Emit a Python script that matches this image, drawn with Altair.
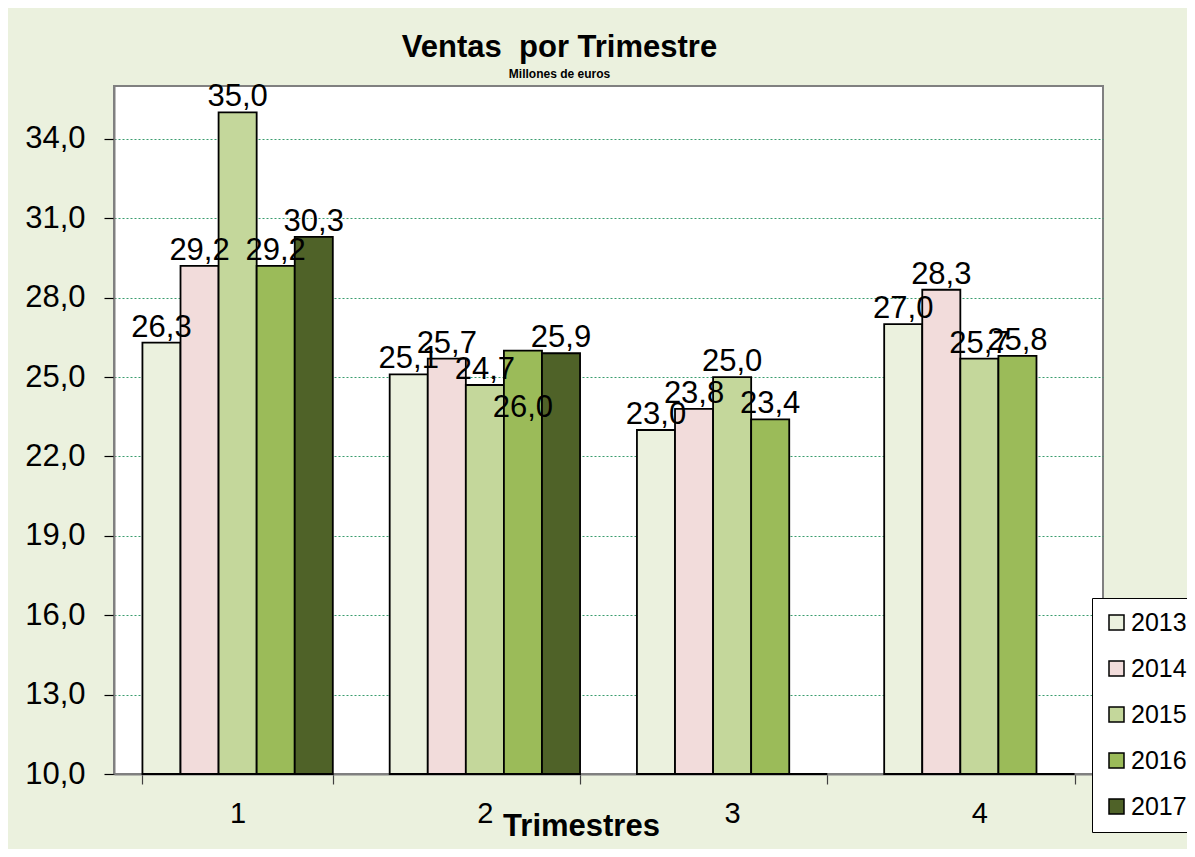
import altair as alt
import pandas as pd

quarters = ["1", "2", "3", "4"]
years = ["2013", "2014", "2015", "2016", "2017"]
v2013 = [26.3, 25.1, 23.0, 27.0]
v2014 = [29.2, 25.7, 23.8, 28.3]
v2015 = [35.0, 24.7, 25.0, 25.7]
v2016 = [29.2, 26.0, 23.4, 25.8]
v2017 = [30.3, 25.9, 0.0, 0.0]
colors = ["#EBF1DE", "#F2DCDB", "#C4D79B", "#9BBB59", "#4F6228"]
y_ticks = [10, 13, 16, 19, 22, 25, 28, 31, 34]

series = [v2013, v2014, v2015, v2016, v2017]
rows = []
for yr, vals in zip(years, series):
    for q, v in zip(quarters, vals):
        rows.append({"quarter": q, "year": yr, "value": v})
df = pd.DataFrame(rows)

FONT = "Liberation Sans"

x_enc = alt.X(
    "quarter:N",
    sort=quarters,
    scale=alt.Scale(paddingInner=0.23, paddingOuter=0.115),
    axis=alt.Axis(
        title="Trimestres",
        titleFont=FONT,
        titleFontSize=31,
        titleFontWeight="bold",
        titleColor="black",
        titleX=467,
        titleY=61,
        titleAlign="center",
        titleBaseline="alphabetic",
        labelAngle=0,
        labelFont=FONT,
        labelFontSize=29,
        labelColor="black",
        labelPadding=15,
        tickBand="extent",
        tickSize=10,
        tickColor="#404040",
        tickWidth=1.2,
        domainColor="#808080",
        domainWidth=2,
        grid=False,
    ),
)
xoff = alt.XOffset("year:N", sort=years)
y_scale = alt.Scale(domain=[10, 36], clamp=True, nice=False, zero=False)

bars = alt.Chart(df).mark_bar(stroke="black", strokeWidth=1.8).encode(
    x=x_enc,
    xOffset=xoff,
    y=alt.Y(
        "value:Q",
        scale=y_scale,
        axis=alt.Axis(
            title=None,
            values=y_ticks,
            labelExpr="replace(format(datum.value, '.1f'), '.', ',')",
            labelFont=FONT,
            labelFontSize=31,
            labelColor="black",
            labelPadding=19,
            tickSize=10,
            tickColor="black",
            tickWidth=1.2,
            domainColor="#808080",
            domainWidth=2,
            grid=True,
            gridColor="#3A9D6E",
            gridDash=[2, 2],
            gridWidth=1,
        ),
    ),
    y2=alt.datum(10),
    color=alt.Color(
        "year:N",
        sort=years,
        scale=alt.Scale(domain=years, range=colors),
        legend=alt.Legend(
            title=None,
            orient="none",
            legendX=978,
            legendY=512,
            fillColor="white",
            strokeColor="black",
            padding=12,
            labelFont=FONT,
            labelFontSize=25,
            labelColor="black",
            labelOffset=2,
            symbolType="square",
            symbolSize=225,
            symbolStrokeColor="black",
            symbolStrokeWidth=1.5,
            rowPadding=20,
        ),
    ),
)

label_fmt = "replace(format(datum.value, '.1f'), '.', ',')"

labels = alt.Chart(df).transform_filter(
    "datum.value > 0 && !(datum.quarter == '2' && datum.year == '2016')"
).transform_calculate(lbl=label_fmt).mark_text(
    font=FONT, fontSize=31, color="black", baseline="alphabetic", dy=-6
).encode(
    x=alt.X("quarter:N", sort=quarters),
    xOffset=xoff,
    y=alt.Y("value:Q", scale=y_scale),
    text="lbl:N",
)

inner_label = alt.Chart(df).transform_filter(
    "datum.quarter == '2' && datum.year == '2016'"
).transform_calculate(lbl=label_fmt).mark_text(
    font=FONT, fontSize=31, color="black", baseline="alphabetic", dy=66
).encode(
    x=alt.X("quarter:N", sort=quarters),
    xOffset=xoff,
    y=alt.Y("value:Q", scale=y_scale),
    text="lbl:N",
)

chart = alt.layer(bars, labels, inner_label).properties(
    width=989,
    height=688,
    title=alt.TitleParams(
        text="Ventas\u00a0 por Trimestre",
        subtitle="Millones de euros",
        font=FONT,
        fontSize=31,
        fontWeight="bold",
        color="black",
        subtitleFont=FONT,
        subtitleFontSize=12,
        subtitleFontWeight="bold",
        subtitleColor="black",
        subtitlePadding=5,
        anchor="middle",
        dx=-49,
        offset=0,
    ),
    background="#EBF1DE",
    autosize=alt.AutoSizeParams(type="none"),
    padding={"left": 106, "top": 78, "right": 84, "bottom": 75},
).configure_view(
    fill="white", stroke="#808080", strokeWidth=2
)

chart.save("out.html", embed_options={"renderer": "svg", "actions": False})
